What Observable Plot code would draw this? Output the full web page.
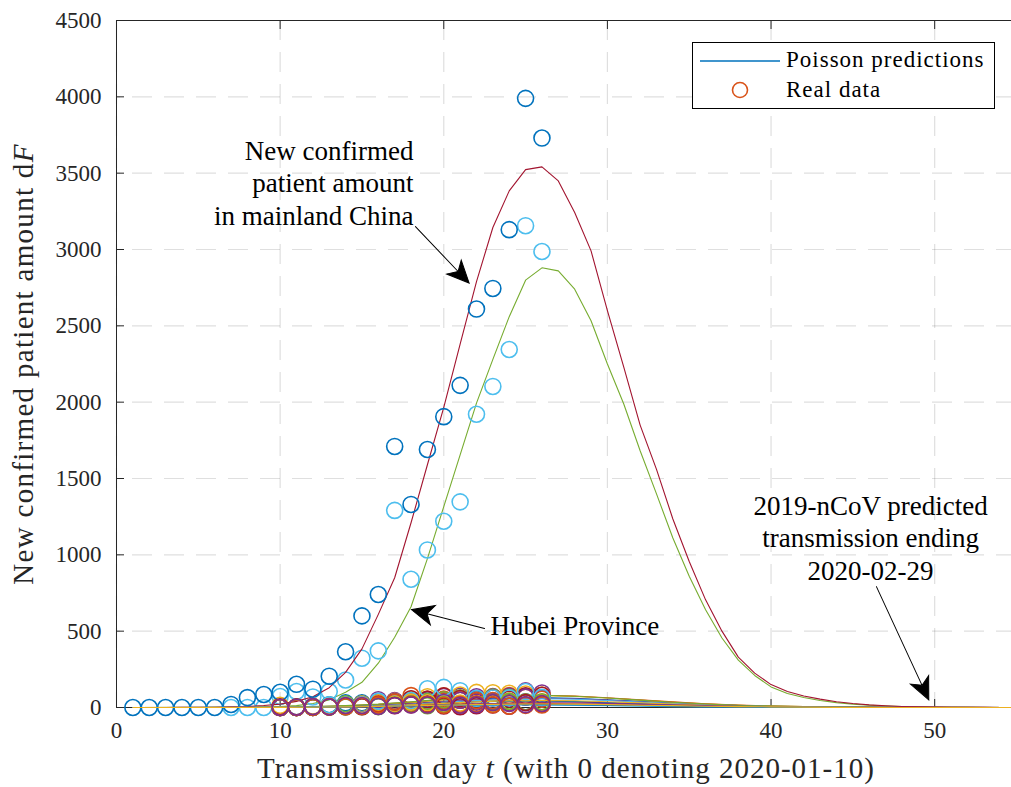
<!DOCTYPE html>
<html><head><meta charset="utf-8">
<script src="https://cdn.jsdelivr.net/npm/d3@7"></script>
<script src="https://cdn.jsdelivr.net/npm/@observablehq/plot@0.6"></script>
<style>
body{margin:0;background:#fff;}
#chart{position:relative;width:1011px;height:787px;overflow:hidden;}
</style></head><body><div id="chart"></div>
<script>
// ---------- data ----------
const xTicks = [0, 10, 20, 30, 40, 50];
const yTicks = [0, 500, 1000, 1500, 2000, 2500, 3000, 3500, 4000, 4500];

const predDays = [1,2,3,4,5,6,7,8,9,10,11,12,13,14,15,16,17,18,19,20,21,22,23,24,25,26,27,28,29,30,31,32,33,34,35,36,37,38,39,40,41,42,43,44,45,46,47,48,49,50,51,52,53,54,55];
const chinaPred = [0,0,0,1,1,2,4,7,13,22,40,70,130,230,384,610,850,1210,1590,1966,2380,2790,3144,3384,3523,3541,3449,3242,2991,2600,2230,1850,1560,1235,956,705,500,330,225,150,105,75,55,38,26,17,11,7,4,3,2,1,1,0,0];
const hubeiPred = [0,0,0,0,0,1,1,2,4,7,12,26,50,100,165,290,460,660,975,1316,1655,1994,2280,2560,2799,2880,2860,2740,2533,2250,1988,1682,1399,1110,860,640,455,310,210,135,92,65,46,32,22,15,10,6,4,2,1,1,0,0,0];

const chinaDays = [1,2,3,4,5,6,7,8,9,10,11,12,13,14,15,16,17,18,19,20,21,22,23,24,25,26];
const chinaReal = [0,0,0,0,0,0,20,65,85,100,152,120,205,365,600,740,1710,1330,1690,1905,2110,2610,2745,3130,3990,3730];
const hubeiDays = [7,8,9,10,11,12,13,14,15,16,17,18,19,20,21,22,23,24,25,26];
const hubeiReal = [0,0,0,72,105,69,105,180,323,371,1291,840,1032,1220,1347,1921,2103,2345,3156,2987];

const provDays = [10,11,12,13,14,15,16,17,18,19,20,21,22,23,24,25,26];
const provPredDays = [1,8,10,12,14,16,18,20,22,24,26,28,30,32,34,36,38,40,44,48,55];

const hunanReal = [0,1,3,15,19,26,33,43,78,56,55,57,58,68,78,67,57];
const hunanPred = [0,0,1,3,8,16,28,43,56,64,65,60,51,40,29,20,13,8,3,1,0];
const henanReal = [0,0,1,4,4,23,51,45,40,38,72,74,70,71,73,109,95];
const henanPred = [0,0,1,3,8,17,31,49,65,76,78,73,62,48,35,24,15,9,3,1,0];
const chongqingReal = [0,1,4,18,30,30,35,22,40,51,42,47,59,44,31,37,32];
const chongqingPred = [0,0,1,3,7,14,24,35,43,46,44,38,30,22,15,10,6,4,1,0,0];
const guangdongReal = [14,3,9,6,21,25,33,40,56,70,77,82,99,97,93,88,82];
const guangdongPred = [0,1,2,5,11,21,36,53,69,78,80,75,64,50,37,25,16,10,3,1,0];
const anhuiReal = [0,0,1,14,24,21,10,36,46,40,50,63,43,69,67,74,62];
const anhuiPred = [0,0,1,2,6,13,24,38,51,59,61,57,48,37,27,18,12,7,2,1,0];
const jiangxiReal = [0,0,2,5,11,18,12,36,57,53,76,59,46,62,55,77,80];
const jiangxiPred = [0,0,1,2,5,11,21,34,46,54,57,54,46,36,26,18,12,7,2,1,0];
const shandongReal = [0,1,4,6,11,20,25,34,30,25,40,48,45,45,34,36,55];
const shandongPred = [0,0,1,2,5,10,18,28,37,42,43,40,33,26,19,13,8,5,2,0,0];
const jiangsuReal = [0,0,1,8,10,14,15,37,36,25,34,47,34,35,32,68,64];
const jiangsuPred = [0,0,0,1,4,9,17,27,37,44,46,44,38,30,22,15,10,6,2,1,0];
const zhejiangReal = [0,5,5,17,16,19,42,24,45,123,132,110,61,62,63,105,66];
const zhejiangPred = [0,1,3,6,12,22,37,55,70,79,80,74,62,48,34,23,14,9,3,1,0];
const sichuanReal = [0,1,4,7,13,15,14,22,35,31,22,29,24,23,42,33,35];
const sichuanPred = [0,0,1,2,4,8,13,19,24,27,27,25,21,16,12,8,5,3,1,0,0];
const heilongjiangReal = [0,0,1,3,4,5,6,16,23,11,20,15,21,33,40,35,38];
const heilongjiangPred = [0,0,0,1,2,5,10,16,23,28,31,30,27,22,17,12,8,5,2,1,0];
const beijingReal = [5,4,4,4,10,5,19,12,19,21,10,5,12,16,8,32,21];
const beijingPred = [0,1,2,3,5,8,11,14,16,17,16,14,11,9,6,4,3,2,1,0,0];
const shanghaiReal = [0,2,6,4,13,13,7,13,16,16,33,15,18,32,26,19,26];
const shanghaiPred = [0,0,1,2,4,7,11,15,19,22,23,22,19,15,12,8,6,4,1,0,0];
const fujianReal = [0,0,1,4,5,8,17,35,18,19,15,21,24,18,9,14,17];
const fujianPred = [0,0,0,1,3,6,10,14,17,19,19,17,14,11,8,5,3,2,1,0,0];

const legendLabels = ["Poisson predictions", "Real data"];
const annTexts = ["New confirmed\npatient amount\nin mainland China", "Hubei Province", "2019-nCoV predicted\ntransmission ending\n2020-02-29"];
const annTextX = [18.15, 22.85, 46.08];
const annTextY = [3443, 540, 1117];
const arrowX1 = [18.27, 22.49, 46.44];
const arrowY1 = [3150, 517, 792];
const arrowX2 = [21.55, 18.03, 49.64];
const arrowY2 = [2780, 641, 50];

// ---------- build ----------
const palette = ["#0072BD","#D95319","#EDB120","#7E2F8E","#77AC30","#4DBEEE","#A2142F"];
const regions = [
  [provDays, hunanReal, provPredDays, hunanPred],
  [provDays, henanReal, provPredDays, henanPred],
  [hubeiDays, hubeiReal, predDays, hubeiPred],
  [provDays, chongqingReal, provPredDays, chongqingPred],
  [provDays, guangdongReal, provPredDays, guangdongPred],
  [provDays, anhuiReal, provPredDays, anhuiPred],
  [provDays, jiangxiReal, provPredDays, jiangxiPred],
  [provDays, shandongReal, provPredDays, shandongPred],
  [provDays, jiangsuReal, provPredDays, jiangsuPred],
  [provDays, zhejiangReal, provPredDays, zhejiangPred],
  [chinaDays, chinaReal, predDays, chinaPred],
  [provDays, sichuanReal, provPredDays, sichuanPred],
  [provDays, heilongjiangReal, provPredDays, heilongjiangPred],
  [provDays, beijingReal, provPredDays, beijingPred],
  [provDays, fujianReal, provPredDays, fujianPred],
  [provDays, shanghaiReal, provPredDays, shanghaiPred]
];

const common = {
  width: 1011, height: 787,
  marginTop: 20, marginBottom: 80, marginLeft: 116, marginRight: -5,
  x: {domain: [0, 55]},
  y: {domain: [0, 4500]},
  style: {fontFamily: "'Liberation Serif', serif", fontSize: "23px", color: "#262626", background: "white"}
};

const gridMarks = [
  Plot.gridX(xTicks, {stroke: "#262626", strokeOpacity: 0.15, strokeWidth: 1.2, strokeDasharray: "20,12"}),
  Plot.gridY(yTicks, {stroke: "#262626", strokeOpacity: 0.15, strokeWidth: 1.2, strokeDasharray: "20,12", strokeDashoffset: 16})
];

const probe = Plot.plot({...common, marks: gridMarks});
const sx = probe.scale("x").apply, sy = probe.scale("y").apply;

const HL = 22, HW = 10, NOTCH = 16;
const arrowShape = {
  draw(ctx, l) {
    ctx.moveTo(0, 0);
    ctx.lineTo(0, -l + NOTCH);
    ctx.moveTo(0, -l);
    ctx.lineTo(-HW, -l + HL);
    ctx.lineTo(0, -l + NOTCH);
    ctx.lineTo(HW, -l + HL);
    ctx.closePath();
  }
};
function arrowMark(i) {
  const px1 = sx(arrowX1[i]), py1 = sy(arrowY1[i]), px2 = sx(arrowX2[i]), py2 = sy(arrowY2[i]);
  const len = Math.hypot(px2 - px1, py2 - py1);
  const rot = Math.atan2(px2 - px1, -(py2 - py1)) * 180 / Math.PI;
  return Plot.vector([{x: arrowX1[i], y: arrowY1[i]}], {
    x: "x", y: "y", length: len, rotate: rot, anchor: "start", shape: arrowShape,
    stroke: "black", fill: "black", strokeWidth: 1, strokeLinejoin: "miter"
  });
}

const dataMarks = [];
regions.forEach(([rd, rv, pd, pv], i) => {
  const k = i + 1;
  const lineColor = palette[(2 * k - 2) % 7];
  const dotColor = palette[(2 * k - 1) % 7];
  dataMarks.push(Plot.line(pd.map((d, j) => ({day: d, v: pv[j]})), {x: "day", y: "v", stroke: lineColor, strokeWidth: 1.1}));
  dataMarks.push(Plot.dot(rd.map((d, j) => ({day: d, v: rv[j]})), {x: "day", y: "v", r: 8, stroke: dotColor, strokeWidth: 1.6, fill: "none"}));
});

const annData = annTexts.map((t, i) => ({t, x: annTextX[i], y: annTextY[i]}));
const anchors = ["end", "start", "middle"];

const chart = Plot.plot({
  ...common,
  marks: [
    ...gridMarks,
    Plot.frame({stroke: "#262626", strokeWidth: 1}),
    Plot.axisX({anchor: "bottom", ticks: xTicks, tickSize: 0, tickPadding: 14, tickFormat: d3.format("d"), label: null}),
    Plot.axisX({anchor: "bottom", ticks: xTicks, tickSize: -8, tickFormat: () => "", label: null}),
    Plot.axisX({anchor: "top", ticks: xTicks, tickSize: -8, tickFormat: () => "", label: null}),
    Plot.axisY({anchor: "left", ticks: yTicks, tickSize: 0, tickPadding: 15, tickFormat: d3.format("d"), label: null}),
    Plot.axisY({anchor: "left", ticks: yTicks, tickSize: -8, tickFormat: () => "", label: null}),
    ...dataMarks,
    ...annData.map((d, i) => Plot.text([d], {x: "x", y: "y", text: "t", textAnchor: anchors[i], lineHeight: 1.2, fontSize: 27, fill: "black", ariaLabel: "annotation"})),
    arrowMark(0), arrowMark(1), arrowMark(2)
  ]
});

document.getElementById("chart").appendChild(chart);
const svg = d3.select(chart);
svg.selectAll('g[aria-label="annotation"] text').style("letter-spacing", "1.1px");

// axis labels
const xl = svg.append("text").attr("x", 566).attr("y", 778).attr("text-anchor", "middle")
  .attr("font-size", 29).attr("fill", "#262626").style("letter-spacing", "1px");
xl.append("tspan").text("Transmission day ");
xl.append("tspan").attr("font-style", "italic").text("t");
xl.append("tspan").text(" (with 0 denoting 2020-01-10)");
const yl = svg.append("text").attr("transform", "translate(33,364) rotate(-90)").attr("text-anchor", "middle")
  .attr("font-size", 29).attr("fill", "#262626").style("letter-spacing", "1.3px");
yl.append("tspan").text("New confirmed patient amount d");
yl.append("tspan").attr("font-style", "italic").text("F");

// legend
const lg = svg.append("g").attr("text-anchor", "start");
lg.append("rect").attr("x", 692.5).attr("y", 42.5).attr("width", 302).attr("height", 66)
  .attr("fill", "white").attr("stroke", "black").attr("stroke-width", 1);
lg.append("line").attr("x1", 700).attr("x2", 780).attr("y1", 61).attr("y2", 61)
  .attr("stroke", palette[0]).attr("stroke-width", 1.3);
lg.append("text").attr("x", 786).attr("y", 67).attr("font-size", 23).attr("fill", "black")
  .attr("text-anchor", "start").style("letter-spacing", "1px").text(legendLabels[0]);
lg.append("circle").attr("cx", 740).attr("cy", 90).attr("r", 7.5)
  .attr("fill", "none").attr("stroke", palette[1]).attr("stroke-width", 1.6);
lg.append("text").attr("x", 786).attr("y", 97).attr("font-size", 23).attr("fill", "black")
  .attr("text-anchor", "start").style("letter-spacing", "1px").text(legendLabels[1]);
</script></body></html>
